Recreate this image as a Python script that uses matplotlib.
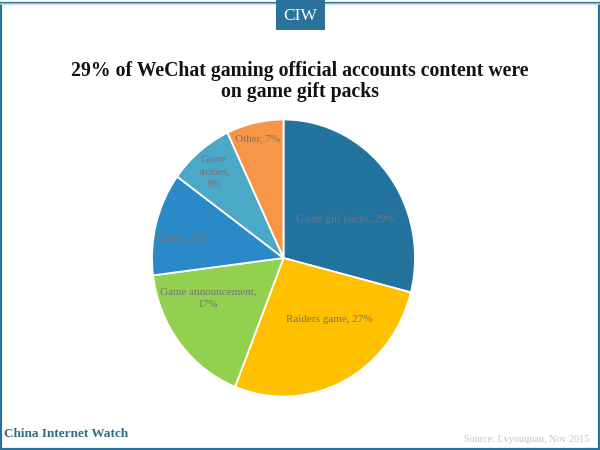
import matplotlib.pyplot as plt
from matplotlib.patches import Rectangle

plt.rcParams['font.family'] = ['Liberation Serif', 'DejaVu Serif']

# donnees du camembert
categories = ['Game gift packs', 'Raiders game', 'Game announcement', 'Game', 'Game stories', 'Other']
valeurs = [29, 27, 17, 12, 8, 7]
couleurs = ['#22739e', '#ffc000', '#92d050', '#2a8ac8', '#4ba8c6', '#f79646']
etiquettes = ['Game gift packs, 29%', 'Raiders game, 27%', 'Game announcement,\n17%',
              'Game, 12%', 'Game\nstories,\n8%', 'Other, 7%']
# position des etiquettes en pixels de l'image
pos_etiquettes = [(345, 219), (329, 319), (208, 298), (183, 238), (214, 172), (258, 139)]

L, H = 600, 450
BLEU = '#2a7299'

fig = plt.figure(figsize=(6, 4.5), dpi=100)

# convertit des pixels (origine en haut a gauche) en coordonnees figure
def px(x, y):
    return x / L, 1 - y / H

# cadre de la page
fig.add_artist(Rectangle((0.5 / L, 1.5 / H), 598.5 / L, 446 / H, transform=fig.transFigure,
                         fill=False, edgecolor=BLEU, linewidth=1.6))
fig.add_artist(Rectangle((0, 1 - 5 / H), 1, 2.5 / H, transform=fig.transFigure,
                         facecolor='#c4d6e0', edgecolor='none', alpha=0.7))
# onglet CIW
fig.add_artist(Rectangle((276 / L, 1 - 30 / H), 49 / L, 30 / H, transform=fig.transFigure,
                         facecolor=BLEU, edgecolor='none'))
fig.text(*px(300.5, 15.5), 'CIW', color='white', fontsize=12.5, ha='center', va='center')

# titre
fig.text(*px(300, 81.5), '29% of WeChat gaming official accounts content were\non game gift packs',
         fontsize=14.2, fontweight='bold', color='#111111', ha='center', va='center', linespacing=1.03)

# le camembert est un peu etire en hauteur dans l'original
cx, cy, rx, ry = 283.5, 258, 131.5, 138.5
ax = fig.add_axes([(cx - rx) / L, 1 - (cy + ry) / H, 2 * rx / L, 2 * ry / H])
ax.pie(valeurs, colors=couleurs, startangle=90, counterclock=False, radius=1,
       wedgeprops={'edgecolor': 'white', 'linewidth': 1.3})
ax.set_aspect('auto')
ax.set_xlim(-1, 1)
ax.set_ylim(-1, 1)

for texte, (x, y) in zip(etiquettes, pos_etiquettes):
    fig.text(*px(x, y), texte, fontsize=8, color='#757575', ha='center', va='center', linespacing=1.5)

# pied de page
fig.text(*px(4.5, 434), 'China Internet Watch', fontsize=9.5, fontweight='bold', color='#2f6b85',
         ha='left', va='center')
fig.text(*px(589, 440), 'Source: Lvyouquan, Nov 2015', fontsize=7.3, color='#c4c4c4',
         ha='right', va='center')

fig.savefig('out.png', dpi=100)
